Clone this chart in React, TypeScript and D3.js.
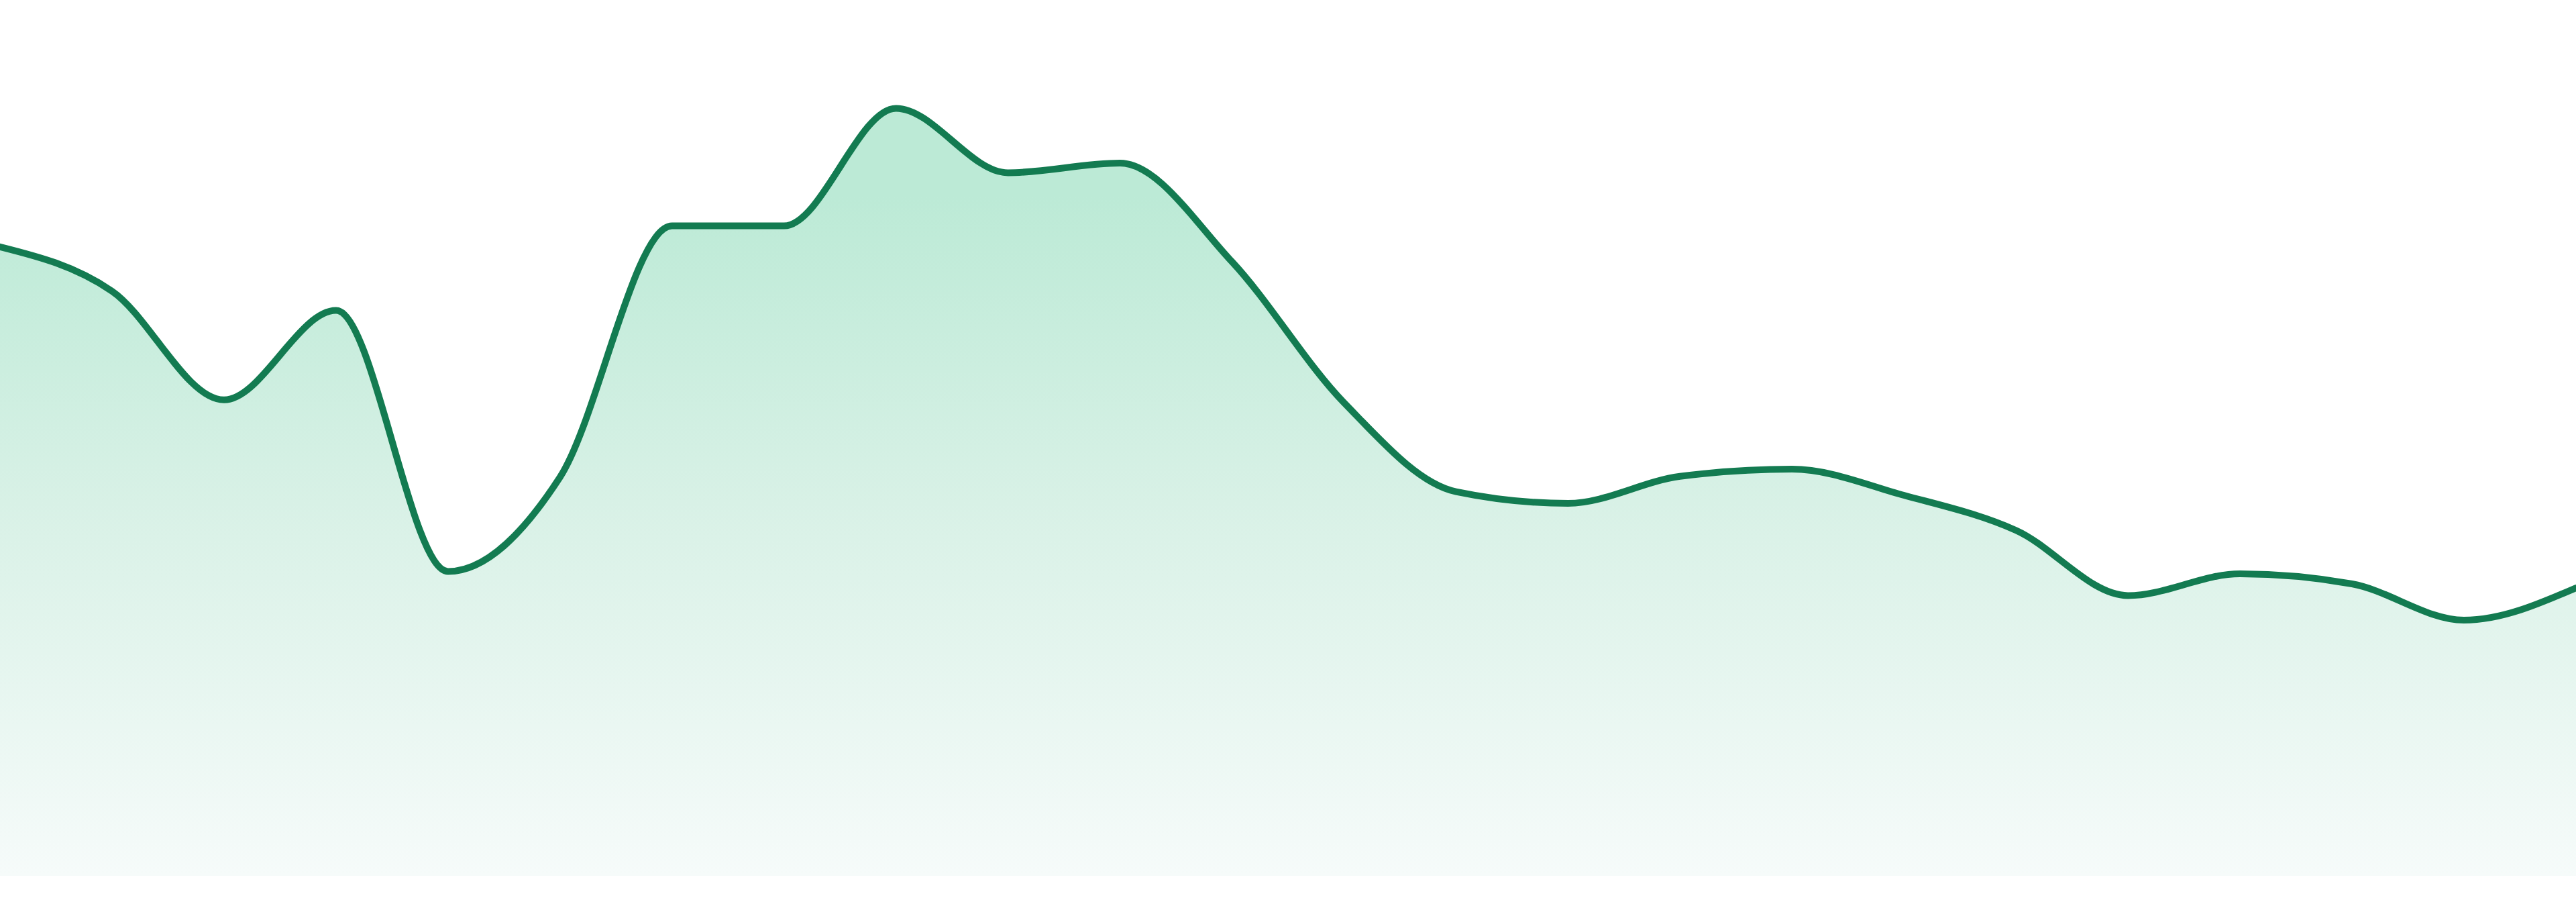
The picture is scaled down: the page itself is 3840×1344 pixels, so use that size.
import React from "react";
import * as d3 from "d3";

const WIDTH = 3840;
const HEIGHT = 1344;

const categories: number[] = [
  0, 1, 2, 3, 4, 5, 6, 7, 8, 9, 10, 11, 12, 13, 14, 15, 16, 17, 18, 19, 20, 21, 22, 23,
];

const seriesValues: number[] = [
  78.1, 72.6, 59.1, 70.2, 37.8, 49.5, 80.7, 80.7, 95.3, 87.3, 88.5, 76.25,
  58.75, 47.7, 46.25, 49.6, 50.5, 47.25, 42.9, 34.8, 37.5, 36.25, 31.75, 35.75,
];

const yDomain: [number, number] = [0, 100];

export default function App() {
  const x = d3
    .scaleLinear()
    .domain([categories[0], categories[categories.length - 1]])
    .range([0, WIDTH]);
  const y = d3.scaleLinear().domain(yDomain).range([1305, 105]);

  const data = categories.map((c, i) => ({ c, v: seriesValues[i] }));

  const area = d3
    .area<{ c: number; v: number }>()
    .x((d) => x(d.c))
    .y0(y(0))
    .y1((d) => y(d.v))
    .curve(d3.curveMonotoneX);

  const line = d3
    .line<{ c: number; v: number }>()
    .x((d) => x(d.c))
    .y((d) => y(d.v))
    .curve(d3.curveMonotoneX);

  return (
    <svg
      width={WIDTH}
      height={HEIGHT}
      viewBox={`0 0 ${WIDTH} ${HEIGHT}`}
      style={{ position: "absolute", left: 0, top: 0, display: "block", background: "#ffffff" }}
    >
      <defs>
        <linearGradient
          id="areaFill"
          gradientUnits="userSpaceOnUse"
          x1={0}
          x2={0}
          y1={292}
          y2={y(0)}
        >
          <stop offset="0%" stopColor="#bceAd6" />
          <stop offset="45%" stopColor="#d8f1e6" />
          <stop offset="100%" stopColor="#f6fbfa" />
        </linearGradient>
      </defs>
      <path d={area(data) ?? ""} fill="url(#areaFill)" stroke="none" />
      <path
        d={line(data) ?? ""}
        fill="none"
        stroke="#137b51"
        strokeWidth={10}
        strokeLinejoin="round"
        strokeLinecap="round"
      />
    </svg>
  );
}
